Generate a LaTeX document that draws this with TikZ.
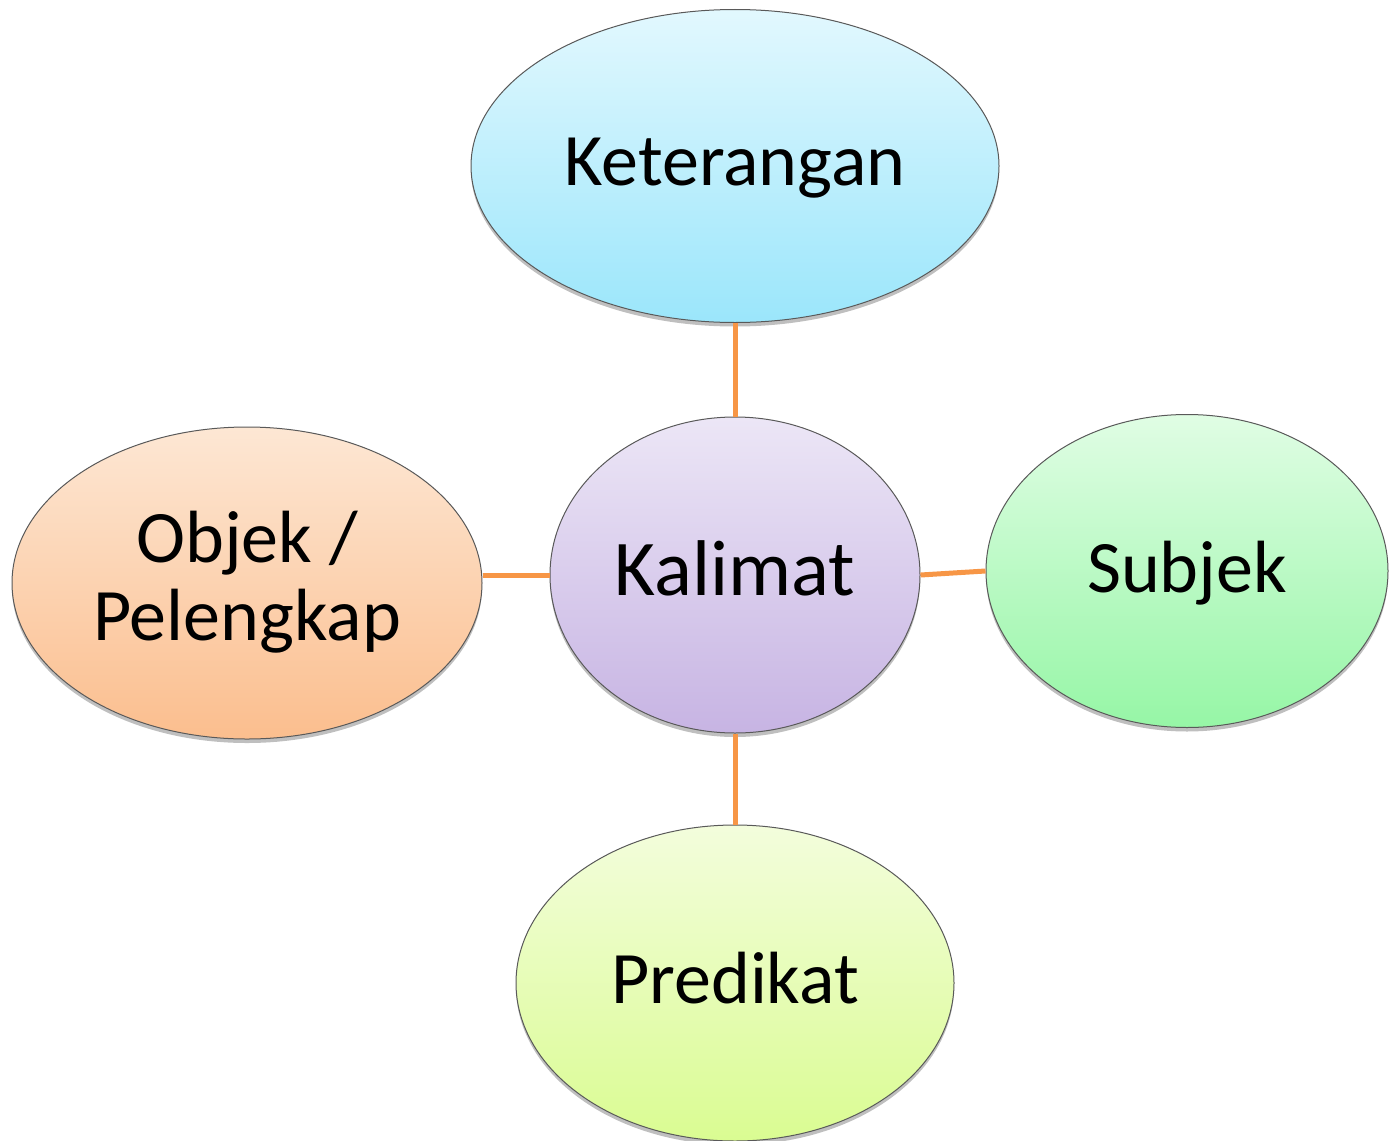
\documentclass[tikz,border=0pt]{standalone}
\usepackage{fontspec}
\setmainfont{Carlito}
\usetikzlibrary{shapes.geometric,shadows}
\begin{document}
\begin{tikzpicture}[x=1pt,y=-1pt,
  bubble/.style={ellipse, draw=black!65, line width=1pt, inner sep=0pt,
    shading=axis, shading angle=0,
    drop shadow={shadow xshift=0pt, shadow yshift=-4pt, opacity=0.25, fill=black}},
  lbl/.style={anchor=base, font=\fontsize{74}{80}\selectfont, align=center, inner sep=0pt},
  link/.style={draw={rgb,255:red,247;green,150;blue,70}, line width=5pt}
]
\useasboundingbox (0,0) rectangle (1394,1140);
\node[bubble, minimum width=528pt, minimum height=313pt,
  top color={rgb,255:red,226;green,248;blue,254}, bottom color={rgb,255:red,155;green,230;blue,251}] (ket) at (735,166) {};
\node[bubble, minimum width=370pt, minimum height=316pt,
  top color={rgb,255:red,236;green,230;blue,246}, bottom color={rgb,255:red,199;green,180;blue,227}] (kal) at (735,575) {};
\node[bubble, minimum width=470pt, minimum height=312pt,
  top color={rgb,255:red,253;green,231;blue,212}, bottom color={rgb,255:red,251;green,190;blue,142}] (obj) at (247,583) {};
\node[bubble, minimum width=402pt, minimum height=313pt,
  top color={rgb,255:red,224;green,253;blue,228}, bottom color={rgb,255:red,150;green,246;blue,166}] (sub) at (1187,571) {};
\node[bubble, minimum width=438pt, minimum height=316pt,
  top color={rgb,255:red,243;green,253;blue,220}, bottom color={rgb,255:red,218;green,252;blue,146}] (pre) at (735,983) {};

\path[link] (ket.south) -- (kal.north);
\path[link] (kal.south) -- (pre.north);
\path[link] (kal.west) -- (kal.west -| obj.east);
\path[link] (kal.east) -- (sub.west);

\node[lbl] (tket) at (735,185) {Keterangan};
\node[lbl, font=\fontsize{79}{84}\selectfont] (tkal) at (735,595) {Kalimat};
\node[lbl] (tsub) at (1187,592) {Subjek};
\node[lbl] (tpre) at (735,1003) {Predikat};
\node[lbl] (tobj1) at (247,562) {Objek /};
\node[lbl] (tobj2) at (247,640) {Pelengkap};
\end{tikzpicture}
\end{document}
